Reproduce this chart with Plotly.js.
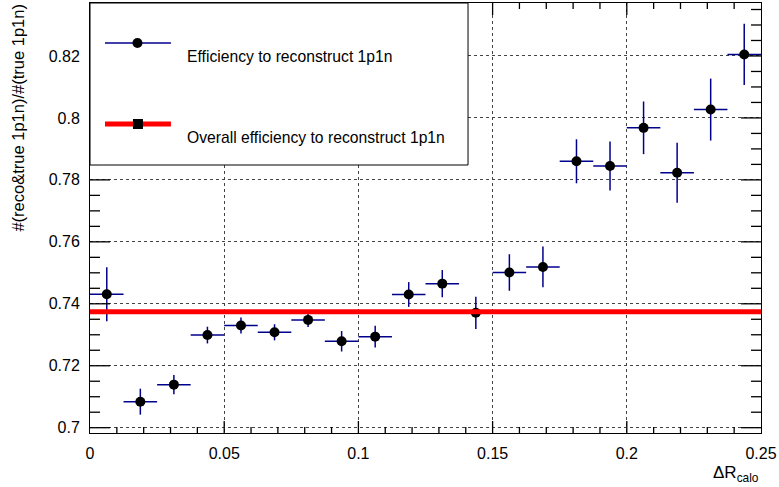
<!DOCTYPE html>
<html>
<head>
<meta charset="utf-8">
<script src="https://cdn.plot.ly/plotly-3.0.1.min.js"></script>
<style>html,body{margin:0;padding:0;background:#fff;}#chart{width:779px;height:487px;}</style>
</head>
<body>
<div id="chart"></div>
<script>
// Bin centres of Delta R_calo (bin width 0.0125)
const binCenters = [0.00625,0.01875,0.03125,0.04375,0.05625,0.06875,0.08125,0.09375,0.10625,0.11875,
                    0.13125,0.14375,0.15625,0.16875,0.18125,0.19375,0.20625,0.21875,0.23125,0.24375];
const binHalfWidth = [0.00625,0.00625,0.00625,0.00625,0.00625,0.00625,0.00625,0.00625,0.00625,0.00625,
                      0.00625,0.00625,0.00625,0.00625,0.00625,0.00625,0.00625,0.00625,0.00625,0.00625];
const efficiency = [0.7431,0.7084,0.7139,0.7299,0.7330,0.7308,0.7348,0.7279,0.7294,0.7430,
                    0.7465,0.7371,0.7501,0.7519,0.7860,0.7845,0.7968,0.7823,0.8027,0.8205];
const effError = [0.0087,0.0042,0.0031,0.0027,0.0026,0.0026,0.0023,0.0033,0.0035,0.0040,
                  0.0044,0.0052,0.0059,0.0066,0.0071,0.0079,0.0085,0.0097,0.0100,0.0099];
const overallX = [0, 0.25];
const overallEff = [0.7374, 0.7374];

const font = "Liberation Sans, Arial, sans-serif";
const xRange = [0, 0.25];
const yRange = [0.69829, 0.8371];

const traces = [
  {
    x: binCenters, y: efficiency, type: 'scatter', mode: 'markers',
    marker: {color: '#000', size: 10, symbol: 'circle'},
    error_x: {type: 'data', array: binHalfWidth, visible: true, color: '#00008b', thickness: 1.5, width: 0},
    error_y: {type: 'data', array: effError, visible: true, color: '#00008b', thickness: 1.5, width: 0},
    showlegend: false
  },
  {
    x: overallX, y: overallEff, type: 'scatter', mode: 'lines',
    line: {color: '#ff0000', width: 5}, showlegend: false
  }
];

const W = 779 - 90 - 17.5; // plot width in px
const H = 433 - 3;
function px(xp){ return xp / W; }
function py(yp){ return 1 - yp / H; } // yp = pixels from top of plot area

// ROOT-style inside tick marks on all four sides (axis decoration)
const tickShapes = [];
for (let i = 1; i < 25; i++) {            // x ticks every 0.01, major every 0.05
  const v = i * 0.01;
  const len = (i % 5 === 0) ? 12 : 6;
  tickShapes.push({type: 'line', xref: 'x', yref: 'paper', x0: v, x1: v, y0: 0, y1: len / H,
                   line: {color: '#000', width: 1.3}, layer: 'above'});
  tickShapes.push({type: 'line', xref: 'x', yref: 'paper', x0: v, x1: v, y0: 1, y1: 1 - len / H,
                   line: {color: '#000', width: 1.3}, layer: 'above'});
}
for (let i = 0; i <= 27; i++) {           // y ticks every 0.005, major every 0.02
  const v = 0.7 + i * 0.005;
  const len = (i % 4 === 0) ? 20 : 10;
  tickShapes.push({type: 'line', xref: 'paper', yref: 'y', x0: 0, x1: len / W, y0: v, y1: v,
                   line: {color: '#000', width: 1.3}, layer: 'above'});
  tickShapes.push({type: 'line', xref: 'paper', yref: 'y', x0: 1, x1: 1 - len / W, y0: v, y1: v,
                   line: {color: '#000', width: 1.3}, layer: 'above'});
}

const legendShapes = [
  {type: 'rect', xref: 'paper', yref: 'paper', x0: 0, x1: px(468.3 - 90), y0: py(162), y1: 1,
   fillcolor: '#fff', line: {color: '#000', width: 1}, layer: 'above'},
  {type: 'line', xref: 'paper', yref: 'paper', x0: px(105 - 90), x1: px(171 - 90), y0: py(40), y1: py(40),
   line: {color: '#00008b', width: 1.5}, layer: 'above'},
  {type: 'circle', xref: 'paper', yref: 'paper', x0: px(132.5 - 90), x1: px(142.5 - 90), y0: py(35), y1: py(45),
   fillcolor: '#000', line: {color: '#000', width: 0}, layer: 'above'},
  {type: 'line', xref: 'paper', yref: 'paper', x0: px(105 - 90), x1: px(171 - 90), y0: py(121), y1: py(121),
   line: {color: '#ff0000', width: 5}, layer: 'above'},
  {type: 'rect', xref: 'paper', yref: 'paper', x0: px(133 - 90), x1: px(143 - 90), y0: py(116), y1: py(126),
   fillcolor: '#000', line: {color: '#000', width: 0}, layer: 'above'}
];

const layout = {
  width: 779, height: 487,
  margin: {l: 90, r: 17.5, t: 3, b: 54},
  paper_bgcolor: '#fff', plot_bgcolor: '#fff',
  font: {family: font, color: '#000', size: 16},
  showlegend: false,
  xaxis: {
    range: xRange, dtick: 0.05, ticks: '',
    showline: true, linecolor: '#000', linewidth: 1, mirror: true,
    showgrid: true, gridcolor: '#444', griddash: 'dot', gridwidth: 1,
    zeroline: false, tickfont: {size: 16, family: font}, ticklabelstandoff: 6
  },
  yaxis: {
    range: yRange, dtick: 0.02, tick0: 0.7, ticks: '',
    showline: true, linecolor: '#000', linewidth: 1, mirror: true,
    showgrid: true, gridcolor: '#444', griddash: 'dot', gridwidth: 1,
    zeroline: false, tickfont: {size: 16, family: font}, ticklabelstandoff: 6
  },
  shapes: tickShapes.concat(legendShapes),
  annotations: [
    {text: 'Efficiency to reconstruct 1p1n', xref: 'paper', yref: 'paper', x: px(185 - 90), y: py(53),
     xanchor: 'left', yanchor: 'middle', showarrow: false, font: {size: 15.7, family: font}},
    {text: 'Overall efficiency to reconstruct 1p1n', xref: 'paper', yref: 'paper', x: px(185 - 90), y: py(134),
     xanchor: 'left', yanchor: 'middle', showarrow: false, font: {size: 15.7, family: font}},
    {text: '#(reco&true 1p1n)/#(true 1p1n)', xref: 'paper', yref: 'paper', x: px(17 - 90), y: 1.0,
     xanchor: 'center', yanchor: 'top', textangle: -90, showarrow: false, font: {size: 16.5, family: font}},
    {text: 'ΔR<sub>calo</sub>', xref: 'paper', yref: 'paper', x: 1, y: py(474 - 3),
     xanchor: 'right', yanchor: 'middle', showarrow: false, font: {size: 17, family: font}}
  ]
};

Plotly.newPlot('chart', traces, layout, {displayModeBar: false, staticPlot: true});
</script>
</body>
</html>
